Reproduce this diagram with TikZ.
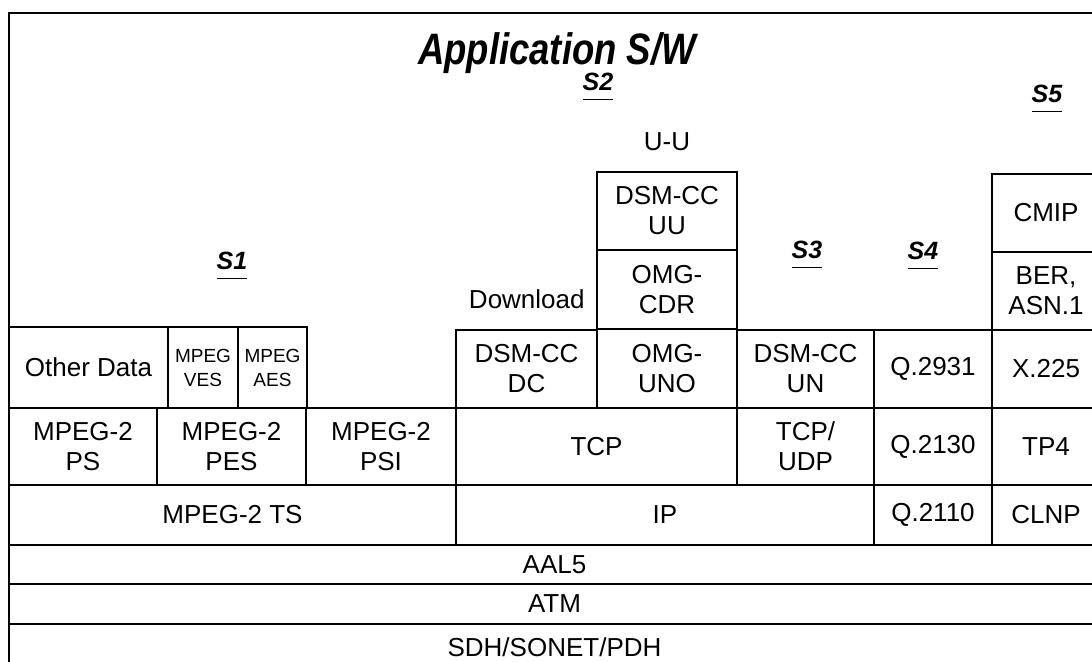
\documentclass[tikz,border=0pt]{standalone}
\usepackage{fontspec}
\setmainfont{Liberation Sans}

\newcommand{\cellfont}{\fontsize{13}{15}\selectfont}
\newcommand{\smallcellfont}{\fontsize{9.5}{12}\selectfont}
\newcommand{\titlefont}{\fontsize{22}{26}\selectfont\bfseries\itshape}
\newcommand{\stagefont}{\fontsize{12.5}{15}\selectfont\bfseries\itshape}
\newcommand{\stagelabel}[1]{\underline{\raisebox{0pt}[\height][2.8pt]{#1}}}
% a layer box from (x1,y1) to (x2,y2), in pixels of the drawing
\newcommand{\cellnode}[6][cell]{%
  \node[#1, minimum width={(#4-#2)*0.5pt}, minimum height={(#5-#3)*0.5pt}]
    (#6) at ({(#2+#4)/2},{(#3+#5)/2})}

\tikzset{
  cell/.style={draw, line width=0.8pt, inner sep=0pt, align=center, font=\cellfont},
  smallcell/.style={cell, font=\smallcellfont},
  stage/.style={font=\stagefont, inner sep=0pt, anchor=base},
  plain/.style={font=\cellfont, inner sep=0pt},
}

\begin{document}
\begin{tikzpicture}[x=0.5pt, y=-0.5pt]
  \useasboundingbox (0,0) rectangle (1092,662);

  % outer frame (open to the right and bottom)
  \coordinate (framebl) at (9,670);
  \coordinate (frametr) at (1100,13);
  \draw[line width=0.8pt] (framebl) |- (frametr);

  % headings
  \node[font=\titlefont, inner sep=0pt, anchor=base] (title) at (557,65)
    {\scalebox{0.83}[1]{Application S/W}};
  \node[stage] (s1) at (232,270) {\stagelabel{S1}};
  \node[stage] (s2) at (598,91) {\stagelabel{S2}};
  \node[stage] (s3) at (807,259) {\stagelabel{S3}};
  \node[stage] (s4) at (923,260) {\stagelabel{S4}};
  \node[stage] (s5) at (1047,103) {\stagelabel{S5}};
  \node[plain] (uu label) at (667,142) {U-U};
  \node[plain, anchor=east] (download) at (585,299) {Download};

  % MPEG side
  \cellnode{9}{327}{168}{408}{other} {Other Data};
  \cellnode[smallcell]{168}{327}{238}{408}{ves} {MPEG\\VES};
  \cellnode[smallcell]{238}{327}{307}{408}{aes} {MPEG\\AES};
  \cellnode{9}{408}{157}{485}{ps} {MPEG-2\\PS};
  \cellnode{157}{408}{306}{485}{pes} {MPEG-2\\PES};
  \cellnode{306}{408}{456}{485}{psi} {MPEG-2\\PSI};
  \cellnode{9}{485}{456}{545}{ts} {MPEG-2 TS};

  % DSM-CC / IP side
  \cellnode{597}{172}{737}{250}{uu} {DSM-CC\\UU};
  \cellnode{597}{250}{737}{329}{cdr} {OMG-\\CDR};
  \cellnode{456}{330}{597}{408}{dc} {DSM-CC\\DC};
  \cellnode{597}{329}{737}{408}{uno} {OMG-\\UNO};
  \cellnode{737}{330}{874}{408}{un} {DSM-CC\\UN};
  \cellnode{456}{408}{737}{485}{tcp} {TCP};
  \cellnode{737}{408}{874}{485}{tcpudp} {TCP/\\UDP};
  \cellnode{456}{485}{874}{545}{ip} {IP};

  % signalling and management
  \cellnode{874}{330}{992}{408}{q2931} {Q.2931};
  \cellnode{874}{408}{992}{485}{q2130} {Q.2130};
  \cellnode{874}{485}{992}{545}{q2110} {Q.2110};
  \cellnode{992}{174}{1100}{252}{cmip} {CMIP};
  \cellnode{992}{252}{1100}{330}{ber} {BER,\\ASN.1};
  \cellnode{992}{330}{1100}{408}{x225} {X.225};
  \cellnode{992}{408}{1100}{485}{tp4} {TP4};
  \cellnode{992}{485}{1100}{545}{clnp} {CLNP};

  % common lower layers
  \cellnode{9}{545}{1100}{584}{aal5} {AAL5};
  \cellnode{9}{584}{1100}{624}{atm} {ATM};
  \cellnode{9}{624}{1100}{670}{sdh} {SDH/SONET/PDH};
\end{tikzpicture}
\end{document}
